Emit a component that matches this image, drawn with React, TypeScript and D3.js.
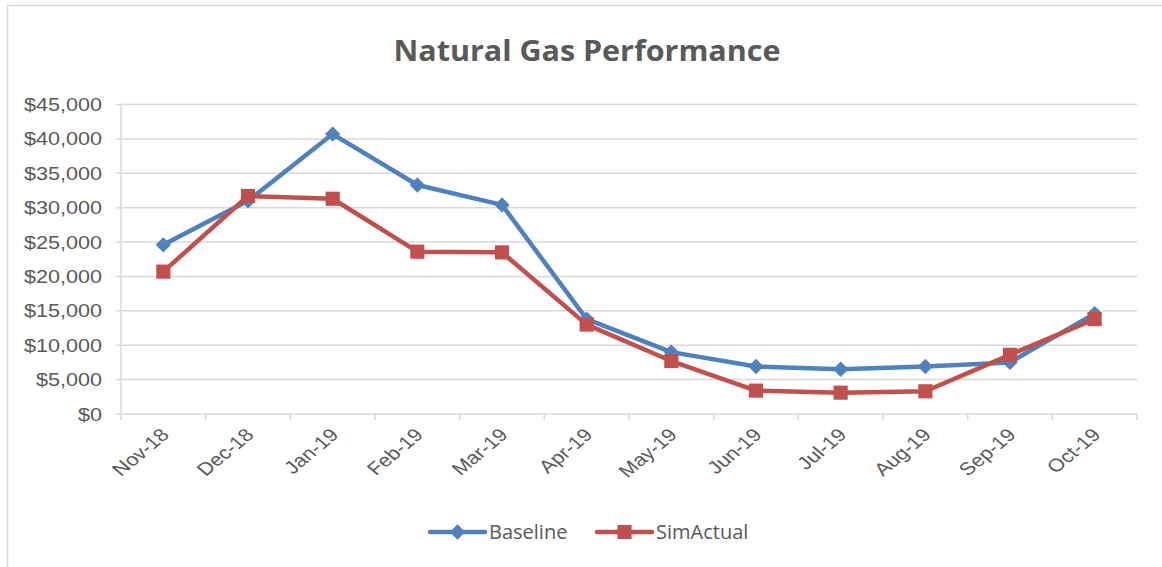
import React, {useEffect, useRef} from 'react';
import * as d3 from 'd3';

const months = [
  'Nov-18', 'Dec-18', 'Jan-19', 'Feb-19', 'Mar-19', 'Apr-19',
  'May-19', 'Jun-19', 'Jul-19', 'Aug-19', 'Sep-19', 'Oct-19',
];
const baseline = [24600, 31000, 40700, 33300, 30400, 13800, 9000, 6900, 6500, 6900, 7500, 14600];
const simActual = [20700, 31700, 31300, 23600, 23500, 13000, 7700, 3400, 3100, 3300, 8600, 13800];
const yTicks = [0, 5000, 10000, 15000, 20000, 25000, 30000, 35000, 40000, 45000];

const W = 1162;
const H = 567;
const margin = {left: 121, right: 25, top: 104.5, bottom: 153};
const BLUE = '#4F81BD';
const RED = '#C0504D';
const TEXT = '#595959';
// the source image is stretched a bit horizontally
const SX = 1.2;

export default function App() {
  const svgRef = useRef<SVGSVGElement>(null);

  useEffect(() => {
    if (!svgRef.current) return;
    const svg = d3.select(svgRef.current);
    svg.selectAll('*').remove();

    const x = d3
      .scaleBand<string>()
      .domain(months)
      .range([margin.left, W - margin.right]);
    const y = d3
      .scaleLinear()
      .domain([0, 45000])
      .range([H - margin.bottom, margin.top]);
    const cx = (m: string) => (x(m) || 0) + x.bandwidth() / 2;

    // chart border
    svg
      .append('rect')
      .attr('x', 7.5)
      .attr('y', 5.5)
      .attr('width', W)
      .attr('height', H)
      .attr('fill', 'white')
      .attr('stroke', '#D9D9D9')
      .attr('stroke-width', 1.5);

    svg
      .append('text')
      .attr('x', 587)
      .attr('y', 61)
      .attr('text-anchor', 'middle')
      .style('font', 'bold 29px "Open Sans", sans-serif')
      .attr('fill', TEXT)
      .attr('textLength', 387)
      .attr('lengthAdjust', 'spacingAndGlyphs')
      .text('Natural Gas Performance');

    // gridlines
    svg
      .append('g')
      .selectAll('line')
      .data(yTicks.slice(1))
      .join('line')
      .attr('x1', margin.left)
      .attr('x2', W - margin.right)
      .attr('y1', (d) => y(d))
      .attr('y2', (d) => y(d))
      .attr('stroke', '#D9D9D9')
      .attr('stroke-width', 1.5);

    // y axis line + ticks
    const yAxis = svg.append('g');
    yAxis
      .append('line')
      .attr('x1', margin.left)
      .attr('x2', margin.left)
      .attr('y1', y(0))
      .attr('y2', y(45000))
      .attr('stroke', '#D9D9D9')
      .attr('stroke-width', 1.5);
    yAxis
      .selectAll('line.tk')
      .data(yTicks)
      .join('line')
      .attr('class', 'tk')
      .attr('x1', margin.left - 5)
      .attr('x2', margin.left)
      .attr('y1', (d) => y(d))
      .attr('y2', (d) => y(d))
      .attr('stroke', '#D9D9D9')
      .attr('stroke-width', 1.5);
    yAxis
      .selectAll('text')
      .data(yTicks)
      .join('text')
      .attr('transform', (d) => `translate(102,${y(d) + 6.5}) scale(${SX},1)`)
      .attr('text-anchor', 'end')
      .style('font', '18px "Liberation Sans", Arial, sans-serif')
      .attr('fill', TEXT)
      .text((d) => '$' + d3.format(',')(d));

    // x axis
    const xAxis = svg.append('g');
    xAxis
      .append('line')
      .attr('x1', margin.left)
      .attr('x2', W - margin.right)
      .attr('y1', y(0))
      .attr('y2', y(0))
      .attr('stroke', '#D9D9D9')
      .attr('stroke-width', 1.5);
    const bounds = months.map((m) => x(m) || 0).concat([W - margin.right]);
    xAxis
      .selectAll('line.tk')
      .data(bounds)
      .join('line')
      .attr('class', 'tk')
      .attr('x1', (d) => d)
      .attr('x2', (d) => d)
      .attr('y1', y(0))
      .attr('y2', y(0) + 6)
      .attr('stroke', '#D9D9D9')
      .attr('stroke-width', 1.5);
    xAxis
      .selectAll('text')
      .data(months)
      .join('text')
      .attr(
        'transform',
        (d) => `translate(${cx(d) + 7},${y(0) + 22}) scale(${SX},1) rotate(-45)`,
      )
      .attr('text-anchor', 'end')
      .style('font', '18px "Liberation Sans", Arial, sans-serif')
      .attr('fill', TEXT)
      .text((d) => d);

    const line = d3
      .line<number>()
      .x((_, i) => cx(months[i]))
      .y((d) => y(d));

    const diamond = d3.symbol().type(d3.symbolDiamond2).size(150);
    const square = d3.symbol().type(d3.symbolSquare).size(200);

    const series = [
      {name: 'Baseline', values: baseline, color: BLUE, sym: diamond},
      {name: 'SimActual', values: simActual, color: RED, sym: square},
    ];

    series.forEach((s) => {
      svg
        .append('path')
        .datum(s.values)
        .attr('d', line)
        .attr('fill', 'none')
        .attr('stroke', s.color)
        .attr('stroke-width', 4.5)
        .attr('stroke-linejoin', 'round');
      svg
        .append('g')
        .selectAll('path')
        .data(s.values)
        .join('path')
        .attr('d', s.sym() as string)
        .attr('transform', (d, i) => `translate(${cx(months[i])},${y(d)})`)
        .attr('fill', s.color);
    });

    // legend
    const legendX = [430, 597];
    series.forEach((s, i) => {
      const g = svg.append('g').attr('transform', `translate(${legendX[i]},532)`);
      g.append('line')
        .attr('x1', 0)
        .attr('x2', 55)
        .attr('stroke', s.color)
        .attr('stroke-width', 4.5)
        .attr('stroke-linecap', 'round');
      g.append('path')
        .attr('d', s.sym() as string)
        .attr('transform', 'translate(27.5,0)')
        .attr('fill', s.color);
      g.append('text')
        .attr('x', 59)
        .attr('y', 7)
        .style('font', '20px "Open Sans", sans-serif')
        .attr('fill', TEXT)
        .text(s.name);
    });
  }, []);

  return (
    <svg
      ref={svgRef}
      width={W}
      height={H}
      style={{display: 'block', position: 'absolute', left: 0, top: 0}}
    />
  );
}
